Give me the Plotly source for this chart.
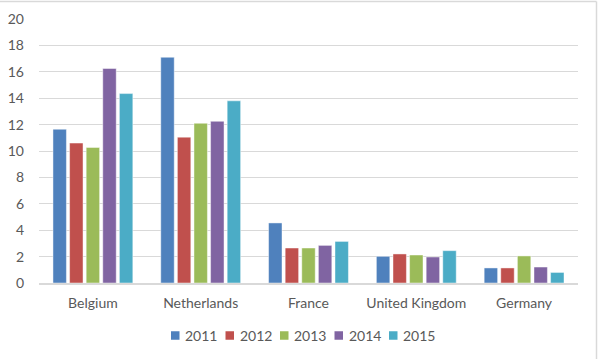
import plotly.graph_objects as go

categories = ["Belgium", "Netherlands", "France", "United Kingdom", "Germany"]
years = ["2011", "2012", "2013", "2014", "2015"]
values_2011 = [11.65, 17.1, 4.55, 2.02, 1.14]
values_2012 = [10.6, 11.05, 2.65, 2.2, 1.14]
values_2013 = [10.27, 12.1, 2.65, 2.12, 2.05]
values_2014 = [16.25, 12.25, 2.85, 1.97, 1.21]
values_2015 = [14.35, 13.8, 3.15, 2.45, 0.8]
series = [values_2011, values_2012, values_2013, values_2014, values_2015]
colors = ["#4F81BD", "#C0504D", "#9BBB59", "#8064A2", "#4BACC6"]
y_ticks = [0, 2, 4, 6, 8, 10, 12, 14, 16, 18, 20]

W, H = 599, 359
L, R, T, B = 39, 21, 19, 76
FONT = "Lato"
TXT = "#595959"
pw = W - L - R
ph = H - T - B


def px_x(p):
    return (p - L) / pw


def px_y(p):
    return (H - B - p) / ph


fig = go.Figure()
for yr, vals, c in zip(years, series, colors):
    fig.add_trace(go.Bar(
        x=categories, y=vals, name=yr,
        marker=dict(color=c, line=dict(color="rgba(255,255,255,0.45)", width=1)),
    ))

# legend row (symbols + labels), laid out like the reference's bottom legend
legend_start = 171
legend_pitch = 54.5
legend_y = 335.5
shapes = []
annotations = []
for i, (yr, c) in enumerate(zip(years, colors)):
    x0 = legend_start + i * legend_pitch
    shapes.append(dict(type="rect", xref="paper", yref="paper",
                       x0=px_x(x0), x1=px_x(x0 + 8.5),
                       y0=px_y(legend_y + 4.25), y1=px_y(legend_y - 4.25),
                       fillcolor=c, line=dict(width=0)))
    annotations.append(dict(text=yr, xref="paper", yref="paper",
                            x=px_x(x0 + 12), y=px_y(legend_y),
                            xanchor="left", yanchor="middle", showarrow=False,
                            font=dict(family=FONT, size=14, color=TXT)))

# chart-area border (top and right edges visible in the reference)
shapes.append(dict(type="line", xref="paper", yref="paper",
                   x0=px_x(0), x1=px_x(596.5), y0=px_y(1.5), y1=px_y(1.5),
                   line=dict(color="#d9d9d9", width=1.5)))
shapes.append(dict(type="line", xref="paper", yref="paper",
                   x0=px_x(596.5), x1=px_x(596.5), y0=px_y(1.5), y1=px_y(H),
                   line=dict(color="#d9d9d9", width=1.5)))

fig.update_layout(
    width=W, height=H,
    margin=dict(l=L, r=R, t=T, b=B, autoexpand=False),
    paper_bgcolor="white", plot_bgcolor="white",
    barmode="group", bargap=0.23, bargroupgap=0.19,
    font=dict(family=FONT, size=14, color=TXT),
    showlegend=False,
    xaxis=dict(showline=True, linecolor="#d9d9d9", linewidth=1.5, ticks="",
               tickfont=dict(family=FONT, size=14, color=TXT),
               showgrid=False, ticklabelstandoff=6),
    yaxis=dict(range=[0, 20], tickvals=y_ticks, showgrid=True, gridcolor="#d9d9d9",
               gridwidth=1, zeroline=False, ticks="", showline=False,
               tickfont=dict(family=FONT, size=14, color=TXT), ticklabelstandoff=14),
    shapes=shapes,
    annotations=annotations,
)

fig.write_html("out.html", config={"displayModeBar": False},
               post_script="document.body.style.margin='0';document.body.style.overflow='hidden';")
